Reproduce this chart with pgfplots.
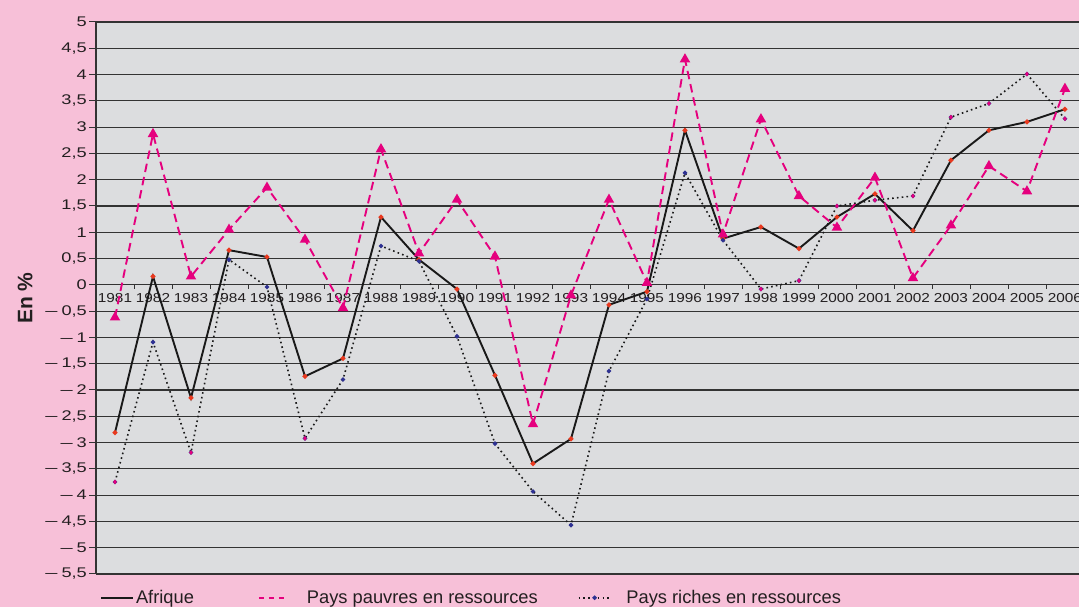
\documentclass[border=0pt]{standalone}
\usepackage{fontspec}
\setmainfont{Liberation Sans}
\usepackage{pgfplots}
\usepackage{pgfplotstable}
\pgfplotsset{compat=1.18}
\definecolor{bgpink}{HTML}{F7C0D8}
\definecolor{plotgrey}{HTML}{DCDDDF}
\definecolor{mag}{HTML}{E5007E}
\definecolor{redpt}{HTML}{E8381E}
\definecolor{bluept}{HTML}{2E3192}
\definecolor{txt}{HTML}{231F20}
\newcommand{\yt}[1]{\scalebox{1.3}[1]{#1}}
\newcommand{\ym}[1]{\scalebox{1.56}[1]{–}\hspace{4pt}\scalebox{1.3}[1]{#1}}
\newcommand{\xt}[1]{\scalebox{1.18}[1]{#1}}
\pgfplotsset{
  longleg/.style={legend image code/.code={\draw[mark repeat=2,mark phase=2,##1] plot coordinates {(0pt,0pt) (16pt,0pt) (32pt,0pt)};}},
  shortleg/.style={legend image code/.code={\draw[##1] (0pt,0pt) -- (27pt,0pt);}},
}

\pgfplotstableread{
x afr pau ric
0 -2.81 -0.62 -3.75
1 0.16 2.87 -1.09
2 -2.15 0.16 -3.19
3 0.66 1.05 0.48
4 0.53 1.85 -0.04
5 -1.74 0.86 -2.92
6 -1.40 -0.44 -1.80
7 1.29 2.58 0.74
8 0.48 0.60 0.45
9 -0.08 1.62 -0.98
10 -1.72 0.54 -3.02
11 -3.40 -2.65 -3.93
12 -2.93 -0.20 -4.57
13 -0.38 1.62 -1.64
14 -0.13 0.04 -0.27
15 2.94 4.29 2.13
16 0.88 0.96 0.85
17 1.10 3.15 -0.08
18 0.69 1.69 0.08
19 1.29 1.09 1.50
20 1.73 2.04 1.61
21 1.03 0.13 1.69
22 2.37 1.13 3.19
23 2.94 2.26 3.45
24 3.10 1.78 4.01
25 3.34 3.73 3.16
}\datatab

\pgfplotstableread{
x ric
0 -3.75
2 -3.19
5 -2.92
17 -0.08
18 0.08
19 1.50
20 1.61
21 1.69
22 3.19
23 3.45
24 4.01
25 3.16
}\magpts

\begin{document}
\begin{tikzpicture}
\useasboundingbox (0,0) rectangle (1079pt,607pt);
\fill[bgpink] (0,0) rectangle (1079pt,607pt);
\begin{axis}[
  at={(96pt,33pt)}, anchor=south west,
  scale only axis, width=983pt, height=552pt,
  xmin=-0.5, xmax=25.37, ymin=-5.5, ymax=5,
  axis background/.style={fill=plotgrey},
  axis x line*=middle, axis y line*=left,
  axis line style={black!80, line width=1.2pt},
  tick align=outside,
  major tick length=7pt, minor tick length=4pt,
  xtick={0,...,25},
  xticklabels={\xt{1981},\xt{1982},\xt{1983},\xt{1984},\xt{1985},\xt{1986},\xt{1987},\xt{1988},\xt{1989},\xt{1990},\xt{1991},\xt{1992},\xt{1993},\xt{1994},\xt{1995},\xt{1996},\xt{1997},\xt{1998},\xt{1999},\xt{2000},\xt{2001},\xt{2002},\xt{2003},\xt{2004},\xt{2005},\xt{2006}},
  minor xtick={-0.5,0.5,...,25.5},
  major x tick style={draw=none},
  minor x tick style={black!80, line width=0.8pt},
  ytick={-5.5,-5,-4.5,-4,-3.5,-3,-2.5,-2,-1.5,-1,-0.5,0,0.5,1,1.5,2,2.5,3,3.5,4,4.5,5},
  yticklabels={{\ym{5,5}},{\ym{5}},{\ym{4,5}},{\ym{4}},{\ym{3,5}},{\ym{3}},{\ym{2,5}},{\ym{2}},{\ym{1,5}},{\ym{1}},{\ym{0,5}},{\yt{0}},{\yt{0,5}},{\yt{1}},{\yt{1,5}},{\yt{2}},{\yt{2,5}},{\yt{3}},{\yt{3,5}},{\yt{4}},{\yt{4,5}},{\yt{5}}},
  major y tick style={black!80, line width=1pt},
  xticklabel style={font=\fontsize{13}{13}\selectfont, text=txt, inner sep=1pt},
  yticklabel style={font=\fontsize{14}{14}\selectfont, text=txt, inner sep=2pt},
  ymajorgrids,
  major grid style={black!80, line width=1.1pt},
  ylabel={\bfseries En \%},
  ylabel style={at={(axis description cs:-0.072,0.5)}, anchor=center, font=\fontsize{21}{21}\selectfont, text=txt},
  legend columns=3,
  legend style={at={(axis description cs:0.004,-0.043)}, anchor=west, draw=none, fill=none, inner sep=0pt,
    font=\fontsize{18.3}{18.3}\selectfont, text=txt,
    /tikz/column 2/.style={column sep=62pt},
    /tikz/column 3/.style={column sep=18pt},
    /tikz/column 4/.style={column sep=38pt},
    /tikz/column 5/.style={column sep=13pt}},
  clip=true,
]
\addplot[forget plot, black!90, line width=1.9pt, mark=*, mark size=1.4pt, mark options={solid, fill=redpt, draw=redpt}] table[x=x, y=afr] {\datatab};
\addplot[forget plot, mag, line width=1.9pt, dash pattern=on 8.5pt off 5pt, mark=triangle*, mark size=4.2pt, mark options={solid, fill=mag, draw=mag}] table[x=x, y=pau] {\datatab};
\addplot[forget plot, black!90, line width=1.6pt, dash pattern=on 1.6pt off 3.2pt, mark=*, mark size=1.3pt, mark options={solid, fill=bluept, draw=bluept}] table[x=x, y=ric] {\datatab};
\addplot[only marks, mark=diamond*, mark size=2pt, mag, forget plot] table[x=x, y=ric] {\magpts};
\addlegendimage{black!90, line width=1.9pt, longleg}
\addlegendentry{Afrique}
\addlegendimage{mag, line width=1.9pt, dash pattern=on 5pt off 5pt, shortleg}
\addlegendentry{Pays pauvres en ressources}
\addlegendimage{black!90, line width=1.6pt, dash pattern=on 1.6pt off 3.2pt, mark=*, mark size=1.3pt, mark options={solid, fill=bluept, draw=bluept}, longleg}
\addlegendentry{Pays riches en ressources}
\end{axis}
\end{tikzpicture}
\end{document}
